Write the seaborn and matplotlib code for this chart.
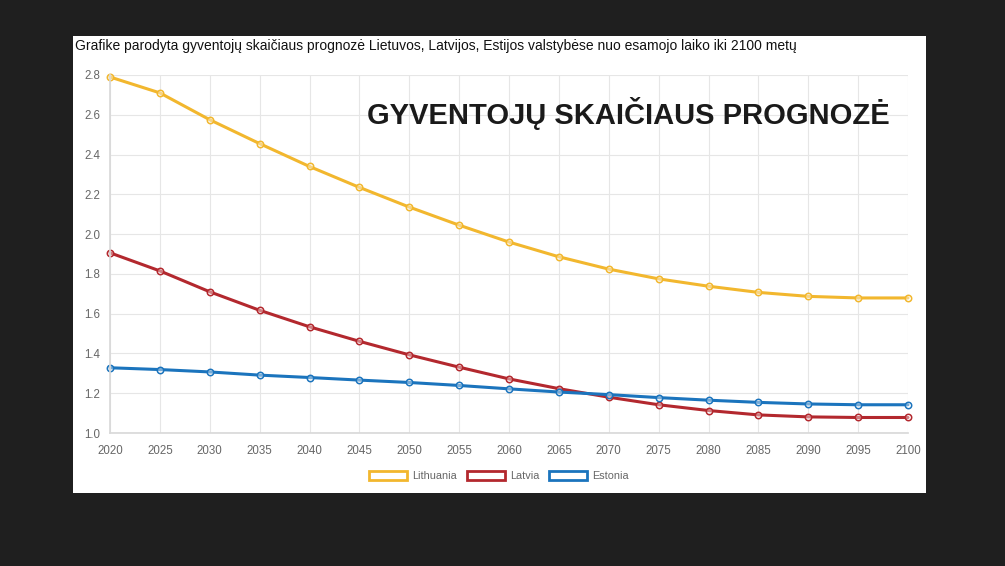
import pandas as pd
import seaborn as sns
import matplotlib
matplotlib.use("Agg")
import matplotlib.pyplot as plt
from matplotlib.patches import Patch, Rectangle

years = [2020, 2025, 2030, 2035, 2040, 2045, 2050, 2055, 2060,
         2065, 2070, 2075, 2080, 2085, 2090, 2095, 2100]
lithuania = [2.79, 2.71, 2.575, 2.455, 2.34, 2.235, 2.136, 2.045, 1.96,
             1.886, 1.824, 1.775, 1.738, 1.707, 1.687, 1.679, 1.679]
latvia = [1.906, 1.815, 1.71, 1.617, 1.534, 1.461, 1.393, 1.331, 1.272,
          1.223, 1.18, 1.142, 1.113, 1.091, 1.081, 1.078, 1.078]
estonia = [1.328, 1.319, 1.307, 1.291, 1.279, 1.266, 1.254, 1.239, 1.222,
           1.206, 1.193, 1.178, 1.165, 1.154, 1.146, 1.142, 1.142]
countries = ["Lithuania", "Latvia", "Estonia"]
colors = ["#f2b72e", "#b3282e", "#1b74bd"]

df = pd.DataFrame({
    "year": years * 3,
    "value": lithuania + latvia + estonia,
    "country": [c for c in countries for _ in years],
})

sns.set_theme(style="whitegrid")
plt.rcParams["font.family"] = ["Liberation Sans", "DejaVu Sans"]

fig = plt.figure(figsize=(10.05, 5.66), dpi=100)
fig.patch.set_facecolor("#1f1f1f")
fig.patches.append(Rectangle((73 / 1005, 1 - 493 / 566), 853 / 1005, 457 / 566,
                             transform=fig.transFigure, facecolor="white",
                             edgecolor="none", zorder=-5))

ax = fig.add_axes([110 / 1005, 1 - 433 / 566, 798 / 1005, 358 / 566])
ax.set_zorder(2)
ax.set_facecolor("white")
sns.lineplot(data=df, x="year", y="value", hue="country", palette=colors,
             hue_order=countries, marker="o", markersize=4.6, linewidth=2.2,
             markerfacecolor="none", markeredgewidth=1.1, legend=False, ax=ax)
for line, c in zip(ax.lines, colors):
    line.set_markeredgecolor(c)
    line.set_markerfacecolor((1, 1, 1, 0.4))
    line.set_clip_on(False)

ax.set_xlim(2020, 2100)
ax.set_ylim(1.0, 2.8)
ax.set_xticks(years)
ax.set_yticks([1.0 + 0.2 * i for i in range(10)])
ax.set_yticklabels([f"{1.0 + 0.2 * i:.1f}" for i in range(10)])
ax.set_xlabel("")
ax.set_ylabel("")
ax.grid(True, color="#e6e6e6", linewidth=0.8)
for s in ax.spines.values():
    s.set_visible(False)
ax.spines["left"].set_visible(True)
ax.spines["left"].set_color("#d9d9d9")
ax.spines["bottom"].set_visible(True)
ax.spines["bottom"].set_color("#d9d9d9")
ax.tick_params(axis="both", labelsize=8.3, colors="#666666", length=5,
               color="#e6e6e6", pad=2)
ax.tick_params(axis="x", pad=4)

fig.text(75 / 1005, 1 - 46 / 566,
         "Grafike parodyta gyventojų skaičiaus prognozė Lietuvos, Latvijos, "
         "Estijos valstybėse nuo esamojo laiko iki 2100 metų",
         fontsize=10, color="#111111", va="center", ha="left")
fig.text(890 / 1005, 1 - 124 / 566, "GYVENTOJŲ SKAIČIAUS PROGNOZĖ",
         fontsize=21, fontweight="heavy", color="#1a1a1a",
         ha="right", va="baseline", zorder=5)

handles = [Patch(facecolor="white", edgecolor=c, linewidth=2, label=n)
           for n, c in zip(countries, colors)]
fig.legend(handles=handles, loc="center", bbox_to_anchor=(499 / 1005, 1 - 476 / 566),
           ncol=3, frameon=False, fontsize=7.8, handlelength=3.5,
           handleheight=0.9, columnspacing=0.9, handletextpad=0.5,
           labelcolor="#666666")

fig.savefig("out.png", dpi=100, facecolor=fig.get_facecolor())
